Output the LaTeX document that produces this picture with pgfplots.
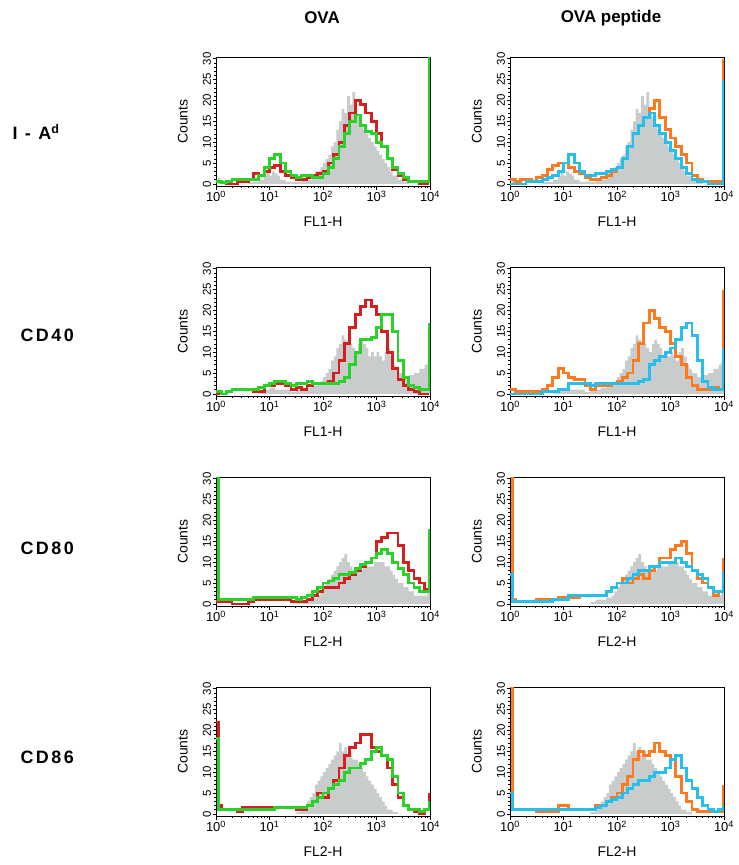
\documentclass[border=0pt]{standalone}
\usepackage{pgfplots}
\pgfplotsset{compat=1.18}
\usepackage{pgfplotstable}
\usepackage{fontspec}
\setmainfont{Liberation Sans}
\newfontfamily\spaced[LetterSpace=14]{Liberation Sans}

\definecolor{cred}{RGB}{214,30,30}
\definecolor{cgreen}{RGB}{40,210,40}
\definecolor{corange}{RGB}{255,122,30}
\definecolor{ccyan}{RGB}{40,190,235}
\definecolor{cgray}{RGB}{200,204,204}

% ---------- control (gray) histograms: x = log10(channel), y = counts
\pgfplotstableread{
x y
0 0
0.04 1.5
0.08 0
0.6 0.5
0.8 1
0.9 2
0.95 3
1.0 2
1.05 3
1.1 2.5
1.15 2
1.2 1
1.3 0.5
1.5 0.5
1.6 1
1.7 1
1.8 2
1.85 3
1.9 3
1.95 4
2.0 5
2.05 6
2.1 7
2.15 9
2.2 10
2.25 13
2.3 15
2.35 18
2.4 17
2.45 21
2.5 19
2.55 22
2.6 17
2.65 16
2.7 14
2.75 13
2.8 12
2.85 11
2.9 10
2.95 9
3.0 8
3.05 7
3.1 6
3.15 5
3.2 4
3.25 3
3.3 2
3.4 1
3.5 0.5
3.6 0
4.0 0
}\grayA
\pgfplotstableread{
x y
0 0
0.8 0.5
0.9 1
1.0 1.5
1.1 1
1.2 1
1.4 0.5
1.5 1
1.6 1
1.7 1.5
1.8 2
1.9 2.5
1.95 3
2.0 4
2.05 5
2.1 6
2.15 8
2.2 9
2.25 11
2.3 12
2.35 14
2.4 13
2.45 12
2.5 12
2.55 11
2.6 10
2.65 12
2.7 13
2.75 12
2.8 11
2.85 9
2.9 10
2.95 9
3.0 10
3.05 9
3.1 8
3.15 10
3.2 11
3.25 9
3.3 7
3.35 6
3.4 5
3.5 4
3.6 4.5
3.7 5
3.8 6
3.9 7
3.95 8
4.0 8
}\grayB
\pgfplotstableread{
x y
0 0
1.5 0.5
1.6 1
1.7 1
1.8 1.5
1.9 2
1.95 3
2.0 4
2.05 5
2.1 6
2.15 7
2.2 8
2.25 9
2.3 10
2.35 11
2.4 12
2.45 10
2.5 9
2.55 8
2.6 8
2.65 9
2.7 8
2.75 9
2.8 9
2.85 9
2.9 9
2.95 10
3.0 10
3.05 10
3.1 10
3.15 9
3.2 9
3.25 8
3.3 7
3.35 6
3.4 5
3.5 4
3.6 3
3.7 2
3.8 2
3.9 2
3.95 3
4.0 3
}\grayC
\pgfplotstableread{
x y
0 0
1.5 0.5
1.6 1
1.65 2
1.7 3
1.75 4
1.8 5
1.85 7
1.9 8
1.95 9
2.0 10
2.05 11
2.1 12
2.15 13
2.2 14
2.25 15
2.3 17
2.35 15
2.4 16
2.45 14
2.5 15
2.55 13
2.6 13
2.65 12
2.7 11
2.75 10
2.8 9
2.85 8
2.9 7
2.95 6
3.0 5
3.05 4
3.1 3
3.15 2
3.2 1
3.3 0.5
3.4 0
4.0 0
}\grayD

% ---------- stained histograms: a = first colour, b = second colour
\pgfplotstableread{
x a b
0 0.5 0.5
0.04 0.5 0.5
0.1 0.3 0.3
0.2 0 0.5
0.3 0 1
0.4 0.5 1
0.5 0.5 1
0.6 1 1
0.7 2.5 1
0.8 2 2
0.9 3 4
1.0 4 6
1.1 4.5 7
1.2 3 5
1.3 2 3
1.4 1.5 2
1.5 1 1.5
1.6 1 2
1.7 1.5 2
1.8 2 1.5
1.9 2.5 1.5
2.0 3 2.5
2.1 5 4
2.2 7 6
2.3 10 9
2.4 14 12
2.5 17 15
2.6 20 16.5
2.7 19 14
2.8 17 12.5
2.9 15 12
3.0 12 10
3.1 9 9
3.2 6 6
3.3 3.5 4
3.4 2 2.5
3.5 1 1.5
3.6 0.5 0.5
3.7 0.5 0.5
3.8 0 0.5
3.9 0 0.5
3.99 0 31
}\dA
\pgfplotstableread{
x a b
0 1 0
0.04 1 0
0.1 0.5 0
0.2 1 0
0.3 1 0.5
0.4 0.5 0.5
0.5 1.5 0.5
0.6 2 1
0.7 3.5 1.5
0.8 4.5 2
0.9 5 3
1.0 5 5
1.1 4 7
1.2 3 5
1.3 2.5 3
1.4 1.5 2
1.5 1 2
1.6 1 2.5
1.7 1.5 2.5
1.8 2 3
1.9 3 3.5
2.0 4 4
2.1 6 6
2.2 9 9
2.3 12 12
2.4 14 14
2.5 16 16
2.6 18 17
2.7 20 14
2.8 16 12
2.9 13 10
3.0 11 8
3.1 9 6
3.2 7 4
3.3 5 2.5
3.4 2 1
3.5 1 0.5
3.6 0.5 0.5
3.7 0.5 0
3.8 0.5 0
3.9 0.5 0
3.99 30 25
}\dB
\pgfplotstableread{
x a b
0 0 0.5
0.04 0 0.5
0.1 0 0
0.2 0.5 0.5
0.3 1 1
0.4 1 1
0.5 1 1
0.6 1 1
0.7 0.5 1
0.8 0.5 1.5
0.9 2 2
1.0 2 2.5
1.1 2.5 3
1.2 2.5 3
1.3 2 2.5
1.4 1 2
1.5 1.5 2.5
1.6 1 2.5
1.7 2 3
1.8 2.5 2.5
1.9 2.5 2.5
2.0 2.5 2.5
2.1 3 2.5
2.2 5 2.5
2.3 8 3
2.4 12 4
2.5 16 7
2.6 19 10
2.7 21 13
2.8 22.5 13
2.9 21 13.5
3.0 19 16
3.1 15 19
3.2 10 19
3.3 6 15
3.4 3.5 8
3.5 2 4
3.6 1 2
3.7 0.5 1.5
3.8 0 1
3.9 0 1
3.99 0 17
}\dC
\pgfplotstableread{
x a b
0 1 0
0.04 1 0
0.1 0.5 0
0.2 0.5 0
0.3 0.5 0
0.4 0.5 0
0.5 0.5 0
0.6 1 0.5
0.7 2 0.5
0.8 4 0.5
0.9 6 1
1.0 5 1
1.1 4 2.5
1.2 3.5 2.5
1.3 3.5 2.5
1.4 2 2.5
1.5 1 2
1.6 2 2.5
1.7 2 2.5
1.8 2 2.5
1.9 2.5 2.5
2.0 3 2.5
2.1 4 2.5
2.2 5 2.5
2.3 8 2.5
2.4 12 3
2.5 17 3.5
2.6 20 7
2.7 18 8
2.8 16 9
2.9 15 10
3.0 12 11
3.1 9 13
3.2 7 16
3.3 4 17
3.4 2 14
3.5 1 8
3.6 1 3
3.7 1 1.5
3.8 1.5 1
3.9 1 1
3.99 25 11
}\dD
\pgfplotstableread{
x a b
0 0.5 30.5
0.04 0.5 1
0.1 0.5 1
0.2 0.5 1
0.3 0 1
0.4 0 1
0.5 0 1
0.6 0.5 1
0.7 1 1.5
0.8 1 1.5
0.9 1 1.5
1.0 1 1.5
1.1 1 1.5
1.2 1 1.5
1.3 1 1.5
1.4 0.5 1.5
1.5 0.5 1
1.6 0.5 1.5
1.7 1 2
1.8 2 3
1.9 3 4
2.0 4 5
2.1 4 5.5
2.2 4 6
2.3 5 7
2.4 6 7
2.5 7 7.5
2.6 8 8.5
2.7 9 9.5
2.8 10 10
2.9 11 11
3.0 15 12
3.1 16 13
3.2 17 12
3.3 17 10
3.4 14 8.5
3.5 10 7
3.6 8 5
3.7 6 4
3.8 5 3
3.9 3.5 3
3.99 3 18
}\dE
\pgfplotstableread{
x a b
0 30.5 7
0.04 1 0.5
0.1 0.5 0.5
0.2 0.5 0.5
0.3 0.5 0.5
0.4 0.5 0.5
0.5 1 0.5
0.6 1 0.5
0.7 1 0.5
0.8 1 1
0.9 1.5 1
1.0 1.5 1
1.1 1.5 2
1.2 1.5 2
1.3 2 2
1.4 2 2
1.5 2 2
1.6 2 2
1.7 2 2
1.8 3 3
1.9 4 4
2.0 5 5
2.1 6 5
2.2 5 6
2.3 6 7
2.4 7 8
2.5 6 8
2.6 8 9
2.7 9 9
2.8 11 10
2.9 11 10
3.0 13 10
3.1 14 11
3.2 15 10
3.3 12 9
3.4 8 8
3.5 6 7
3.6 5 6
3.7 4 4
3.8 2 3
3.9 3 3
3.99 11 8
}\dF
\pgfplotstableread{
x a b
0 22 18
0.04 2 1
0.1 1 1
0.2 1 1
0.3 1 1
0.4 0.5 1
0.5 1.5 1
0.6 1.5 1
0.7 1.5 1
0.8 1.5 1
0.9 1.5 1
1.0 1.5 1
1.1 1.5 1.5
1.2 1.5 1.5
1.3 1.5 1.5
1.4 1.5 1.5
1.5 1 1.5
1.6 1 1.5
1.7 2 2
1.8 3 3
1.9 5 4
2.0 4 5
2.1 6 6
2.2 8 7
2.3 11 8
2.4 14 10
2.5 16 11
2.6 17 11
2.7 19 12
2.8 19 13
2.9 16 15
3.0 15 16
3.1 14 14
3.2 11 13
3.3 7 9
3.4 4 5
3.5 2 2
3.6 1 1
3.7 0.5 1
3.8 0 0.5
3.9 1 1
3.99 5 3
}\dG
\pgfplotstableread{
x a b
0 30.5 5
0.04 1 1
0.1 1 1
0.2 1 1
0.3 1 1
0.4 1 1
0.5 0.5 1
0.6 0.5 1
0.7 0.5 1
0.8 0.5 1
0.9 2 1
1.0 2 1
1.1 1 1
1.2 1 1
1.3 1 1
1.4 1 1
1.5 1 1
1.6 2 1.5
1.7 2 2
1.8 3 3
1.9 4 3.5
2.0 5 4
2.1 7 5
2.2 9 6
2.3 13 7
2.4 15 8
2.5 14 8
2.6 15 9
2.7 17 10
2.8 15 10
2.9 14 11
3.0 13 13
3.1 9 14
3.2 5 11
3.3 3 8
3.4 1 6
3.5 0.5 4
3.6 0.5 2
3.7 0.5 1
3.8 0.5 0.5
3.9 0.5 1
3.99 7 2
}\dH

\pgfplotsset{
  hist/.style={
    scale only axis, width=214bp, height=129bp,
    xmin=0, xmax=4, ymin=-0.5, ymax=30.4,
    axis line style={black, line width=0.8pt},
    xtick={0,1,2,3,4},
    xticklabels={10\textsuperscript{0},10\textsuperscript{1},10\textsuperscript{2},10\textsuperscript{3},10\textsuperscript{4}},
    minor xtick={0.30103,0.47712,0.60206,0.69897,0.77815,0.84510,0.90309,0.95424,
                 1.30103,1.47712,1.60206,1.69897,1.77815,1.84510,1.90309,1.95424,
                 2.30103,2.47712,2.60206,2.69897,2.77815,2.84510,2.90309,2.95424,
                 3.30103,3.47712,3.60206,3.69897,3.77815,3.84510,3.90309,3.95424},
    ytick={0,5,...,30},
    minor ytick={1,2,3,4,6,7,8,9,11,12,13,14,16,17,18,19,21,22,23,24,26,27,28,29},
    tick align=outside, xtick pos=bottom, ytick pos=left,
    major tick length=3.5bp, minor tick length=2bp,
    tick style={black, line width=0.6pt},
    xticklabel style={font=\fontsize{13}{14}\selectfont, inner sep=1.5pt},
    yticklabel style={font=\fontsize{11.5}{13}\selectfont, rotate=90, anchor=south, inner sep=1.2pt},
    /pgf/number format/assume math mode=true,
    ylabel={Counts},
    ylabel style={at={(axis description cs:-0.155,0.5)}, anchor=center, font=\fontsize{14}{16}\selectfont},
    xlabel style={at={(axis description cs:0.5,-0.28)}, anchor=center, font=\fontsize{14}{16}\selectfont},
  },
  gfill/.style={const plot, fill=cgray, draw=none},
  hl/.style={const plot, line width=2.8bp},
}

\begin{document}
\begin{tikzpicture}
\useasboundingbox (0,0) rectangle (739bp,-865bp);

\node[font=\fontsize{17}{19}\selectfont\bfseries] at (322bp,-18bp) {OVA};
\node[font=\fontsize{17}{19}\selectfont\bfseries] at (611bp,-18bp) {OVA peptide};

\node[anchor=west, font=\spaced\fontsize{18}{20}\selectfont\bfseries] at (9bp,-132bp) {I - A\textsuperscript{d}};
\node[anchor=west, font=\spaced\fontsize{18}{20}\selectfont\bfseries] at (17bp,-335bp) {CD40};
\node[anchor=west, font=\spaced\fontsize{18}{20}\selectfont\bfseries] at (17bp,-548bp) {CD80};
\node[anchor=west, font=\spaced\fontsize{18}{20}\selectfont\bfseries] at (17bp,-757bp) {CD86};

% Row 1: I-Ad
\begin{axis}[hist, at={(216bp,-57bp)}, anchor=north west, xlabel={FL1-H}]
\addplot[gfill] table[x=x,y=y]{\grayA} \closedcycle;
\addplot[hl, cred] table[x=x,y=a]{\dA};
\addplot[hl, cgreen] table[x=x,y=b]{\dA};
\end{axis}
\begin{axis}[hist, at={(510bp,-57bp)}, anchor=north west, xlabel={FL1-H}]
\addplot[gfill] table[x=x,y=y]{\grayA} \closedcycle;
\addplot[hl, corange] table[x=x,y=a]{\dB};
\addplot[hl, ccyan] table[x=x,y=b]{\dB};
\end{axis}

% Row 2: CD40
\begin{axis}[hist, at={(216bp,-267bp)}, anchor=north west, xlabel={FL1-H}]
\addplot[gfill] table[x=x,y=y]{\grayB} \closedcycle;
\addplot[hl, cred] table[x=x,y=a]{\dC};
\addplot[hl, cgreen] table[x=x,y=b]{\dC};
\end{axis}
\begin{axis}[hist, at={(510bp,-267bp)}, anchor=north west, xlabel={FL1-H}]
\addplot[gfill] table[x=x,y=y]{\grayB} \closedcycle;
\addplot[hl, corange] table[x=x,y=a]{\dD};
\addplot[hl, ccyan] table[x=x,y=b]{\dD};
\end{axis}

% Row 3: CD80
\begin{axis}[hist, at={(216bp,-477bp)}, anchor=north west, xlabel={FL2-H}]
\addplot[gfill] table[x=x,y=y]{\grayC} \closedcycle;
\addplot[hl, cred] table[x=x,y=a]{\dE};
\addplot[hl, cgreen] table[x=x,y=b]{\dE};
\end{axis}
\begin{axis}[hist, at={(510bp,-477bp)}, anchor=north west, xlabel={FL2-H}]
\addplot[gfill] table[x=x,y=y]{\grayC} \closedcycle;
\addplot[hl, corange] table[x=x,y=a]{\dF};
\addplot[hl, ccyan] table[x=x,y=b]{\dF};
\end{axis}

% Row 4: CD86
\begin{axis}[hist, at={(216bp,-687bp)}, anchor=north west, xlabel={FL2-H}]
\addplot[gfill] table[x=x,y=y]{\grayD} \closedcycle;
\addplot[hl, cred] table[x=x,y=a]{\dG};
\addplot[hl, cgreen] table[x=x,y=b]{\dG};
\end{axis}
\begin{axis}[hist, at={(510bp,-687bp)}, anchor=north west, xlabel={FL2-H}]
\addplot[gfill] table[x=x,y=y]{\grayD} \closedcycle;
\addplot[hl, corange] table[x=x,y=a]{\dH};
\addplot[hl, ccyan] table[x=x,y=b]{\dH};
\end{axis}
\end{tikzpicture}
\end{document}
